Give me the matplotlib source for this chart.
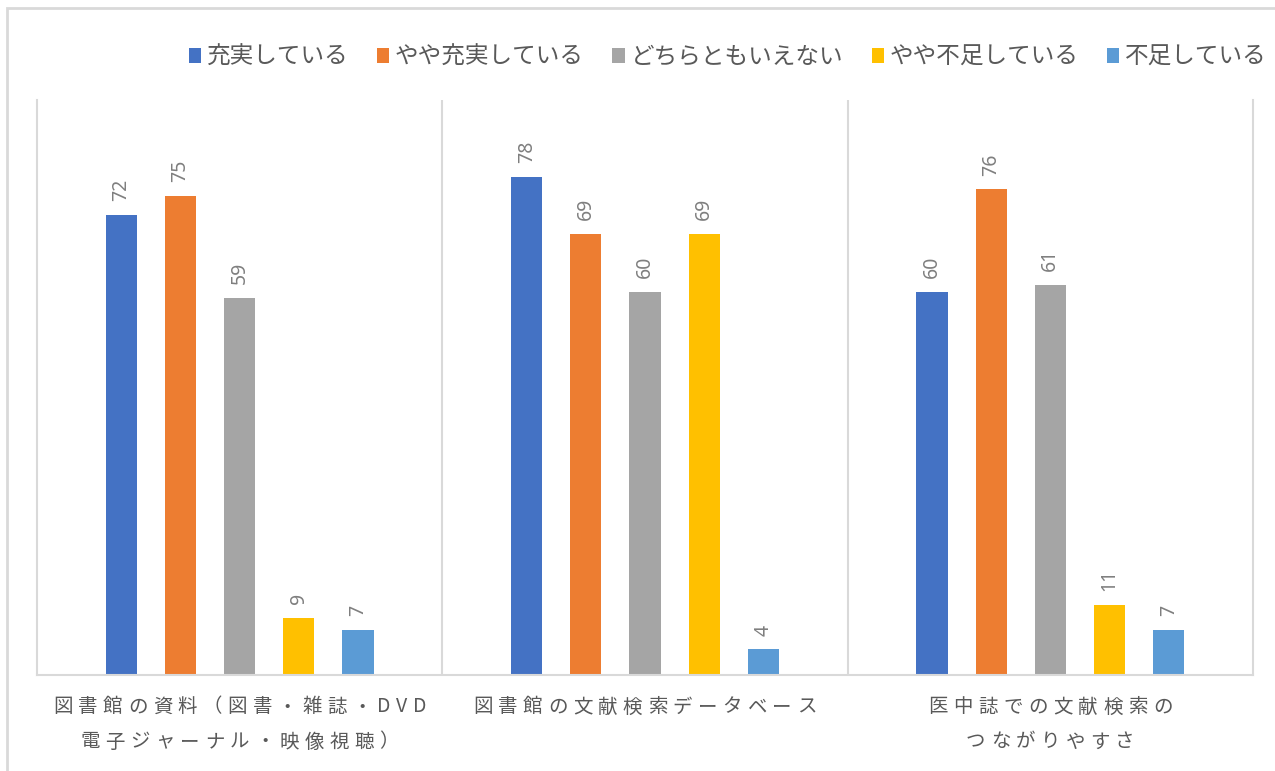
import numpy as np
import matplotlib
matplotlib.use("Agg")
import matplotlib.pyplot as plt
from matplotlib.patches import Patch, Rectangle
from matplotlib.font_manager import FontProperties, findfont, get_font
import matplotlib.transforms as mtransforms

plt.rcParams['font.family'] = ['Noto Sans CJK JP', 'DejaVu Sans']

# データ
categories = [
    ["図書館の資料（図書・雑誌・DVD", "電子ジャーナル・映像視聴）"],
    ["図書館の文献検索データベース"],
    ["医中誌での文献検索の", "つながりやすさ"],
]
series = ["充実している", "やや充実している", "どちらともいえない", "やや不足している", "不足している"]
values = [
    [72, 78, 60],   # 充実している
    [75, 69, 76],   # やや充実している
    [59, 60, 61],   # どちらともいえない
    [9, 69, 11],    # やや不足している
    [7, 4, 7],      # 不足している
]
colors = ["#4472C4", "#ED7D31", "#A5A5A5", "#FFC000", "#5B9BD5"]

W, H, DPI = 1275, 771, 100
fig = plt.figure(figsize=(W / DPI, H / DPI), dpi=DPI)
ax = fig.add_axes([37 / W, 1 - 675 / H, (1253 - 37) / W, (675 - 100) / H])

x = np.arange(len(categories))
step = 0.146
width = 0.077
for i, (name, vals) in enumerate(zip(series, values)):
    xs = x + (i - 2) * step
    ax.bar(xs, vals, width, color=colors[i], label=name, zorder=2)
    for xi, v in zip(xs, vals):
        ax.annotate(str(v), (xi, v), xytext=(0, 10), textcoords='offset points',
                    rotation=90, ha='center', va='bottom', fontsize=14,
                    color='#7f7f7f', family=['Noto Sans', 'DejaVu Sans'])

ax.set_xlim(-0.5, len(categories) - 0.5)
ax.set_ylim(0, 90)
ax.set_xticks([])
ax.set_yticks([])
ax.spines['top'].set_visible(False)
for s in ['left', 'right', 'bottom']:
    ax.spines[s].set_color('#d9d9d9')
    ax.spines[s].set_linewidth(1.5)
for sep in x[:-1] + 0.5:
    ax.axvline(sep, color='#d9d9d9', lw=1.5, zorder=1)

# 文字間隔を広げたカテゴリラベル
lab_size = 14
fp = FontProperties(family='Noto Sans CJK JP', size=lab_size)
ft = get_font(findfont(fp))
ft.set_size(lab_size, DPI)
gap = 5.5  # px


def adv(ch):
    g = ft.load_char(ord(ch))
    return g.linearHoriAdvance / 65536.0


base = mtransforms.blended_transform_factory(ax.transData, fig.transFigure)
line_y = [1 - 707 / H, 1 - 742 / H]
for xi, lines in zip(x, categories):
    for li, line in enumerate(lines):
        ws = [adv(c) for c in line]
        total = sum(ws) + gap * (len(line) - 1)
        pos = -total / 2
        for c, w in zip(line, ws):
            tr = mtransforms.offset_copy(base, fig=fig, x=(pos + w / 2) * 72 / DPI,
                                         y=0, units='points')
            fig.text(xi, line_y[li], c, transform=tr, ha='center', va='center',
                     fontsize=lab_size, color='#595959')
            pos += w + gap

# 凡例
handles = [Patch(facecolor=c, edgecolor='none') for c in colors]
fig.legend(handles, series, loc='center right', bbox_to_anchor=(1267 / W, 1 - 57 / H),
           ncol=5, frameon=False, fontsize=17, handlelength=0.52, handleheight=0.62,
           handletextpad=0.25, columnspacing=1.2, borderpad=0, borderaxespad=0,
           labelcolor='#595959')

# 外枠
fig.add_artist(Rectangle((7 / W, -0.1), 1.2, 1.1 - 8 / H, transform=fig.transFigure,
                         fill=False, edgecolor='#d9d9d9', lw=2))

fig.savefig("out.png", dpi=DPI)
